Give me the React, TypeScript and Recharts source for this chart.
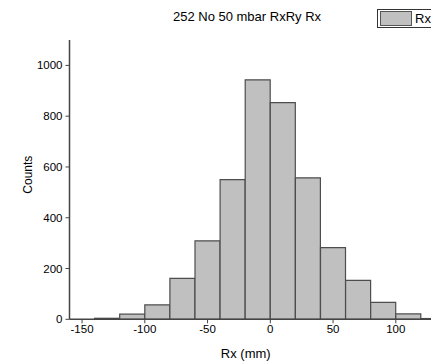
import React from 'react';
import { BarChart, Bar, XAxis, YAxis, Legend } from 'recharts';

// histogram bins (left edge, width 20) and counts
const binStarts = [-160, -140, -120, -100, -80, -60, -40, -20, 0, 20, 40, 60, 80, 100, 120];
const counts = [0, 4, 20, 57, 161, 309, 550, 943, 853, 557, 282, 153, 67, 21, 3];
const xTicks = [-150, -100, -50, 0, 50, 100];
const xMinorTicks = [-125, -75, -25, 25, 75, 125];
const yTicks = [0, 200, 400, 600, 800, 1000];
const yMinorTicks = [100, 300, 500, 700, 900];

const data = binStarts.map((b, i) => ({ bin: b, count: counts[i] }));

const font = '"Liberation Sans", Arial, sans-serif';
const axisColor = '#454545';
const blank = () => '';

const LegendBox = () => (
  <div
    style={{
      display: 'flex',
      alignItems: 'center',
      border: '1px solid #333',
      padding: '1px 3px 1px 2px',
      background: '#fff',
      fontFamily: font,
      fontSize: 13,
      lineHeight: '14px',
      color: '#000',
      whiteSpace: 'nowrap',
    }}
  >
    <span
      style={{
        display: 'inline-block',
        width: 30,
        height: 13,
        background: '#c0c0c0',
        border: '1px solid #555',
        marginRight: 3,
      }}
    />
    Rx
  </div>
);

export default function App() {
  return (
    <div
      style={{
        position: 'fixed',
        left: 0,
        top: 0,
        width: 431,
        height: 364,
        overflow: 'hidden',
        background: '#fff',
        fontFamily: font,
      }}
    >
      <div
        style={{
          position: 'absolute',
          left: 0,
          top: 9,
          width: 494,
          textAlign: 'center',
          fontSize: 13,
          color: '#000',
        }}
      >
        252 No 50 mbar RxRy Rx
      </div>
      <BarChart
        width={460}
        height={364}
        data={data}
        barCategoryGap={0}
        margin={{ top: 40, right: 14, bottom: 0, left: 0 }}
        style={{ position: 'absolute', left: 0, top: 0 }}
      >
        <XAxis
          xAxisId="num"
          dataKey="bin"
          type="number"
          domain={[-160, 140]}
          ticks={xTicks}
          allowDataOverflow
          height={44.7}
          tickSize={4}
          tickMargin={2}
          axisLine={{ stroke: axisColor, strokeWidth: 1.5 }}
          tickLine={{ stroke: axisColor }}
          tick={{ fill: '#000', fontSize: 11.5, fontFamily: font }}
          label={{
            value: 'Rx (mm)',
            position: 'insideBottom',
            offset: 6,
            dx: -12,
            fill: '#000',
            fontSize: 13,
            fontFamily: font,
          }}
        />
        <XAxis xAxisId="bins" dataKey="bin" hide height={0} />
        <XAxis
          xAxisId="minor"
          dataKey="bin"
          type="number"
          domain={[-160, 140]}
          ticks={xMinorTicks}
          allowDataOverflow
          height={0}
          mirror
          tickSize={3}
          tickFormatter={blank}
          axisLine={false}
          tickLine={{ stroke: axisColor }}
        />
        <XAxis
          xAxisId="top"
          orientation="top"
          dataKey="bin"
          height={0}
          tick={false}
          tickLine={false}
          axisLine={{ stroke: '#5a5a5a', strokeWidth: 1.5 }}
        />
        <YAxis
          yAxisId="main"
          domain={[0, 1100]}
          ticks={yTicks}
          width={69.5}
          tickSize={4}
          tickMargin={3}
          axisLine={{ stroke: axisColor, strokeWidth: 1.5 }}
          tickLine={{ stroke: axisColor }}
          tick={{ fill: '#000', fontSize: 11.5, fontFamily: font }}
          label={{
            value: 'Counts',
            angle: -90,
            position: 'center',
            dx: -7.5,
            dy: -5,
            fill: '#000',
            fontSize: 12,
            fontFamily: font,
          }}
        />
        <YAxis
          yAxisId="minor"
          domain={[0, 1100]}
          ticks={yMinorTicks}
          width={0}
          tickSize={2}
          tickFormatter={blank}
          axisLine={false}
          tickLine={{ stroke: axisColor }}
        />
        <Legend
          layout="vertical"
          align="center"
          verticalAlign="middle"
          content={LegendBox}
          wrapperStyle={{ left: 377, top: 9, width: 'auto', height: 'auto' }}
        />
        <Bar
          xAxisId="bins"
          yAxisId="main"
          dataKey="count"
          name="Rx"
          fill="#c0c0c0"
          stroke="#4d4d4d"
          strokeWidth={1.2}
          isAnimationActive={false}
        />
      </BarChart>
    </div>
  );
}
